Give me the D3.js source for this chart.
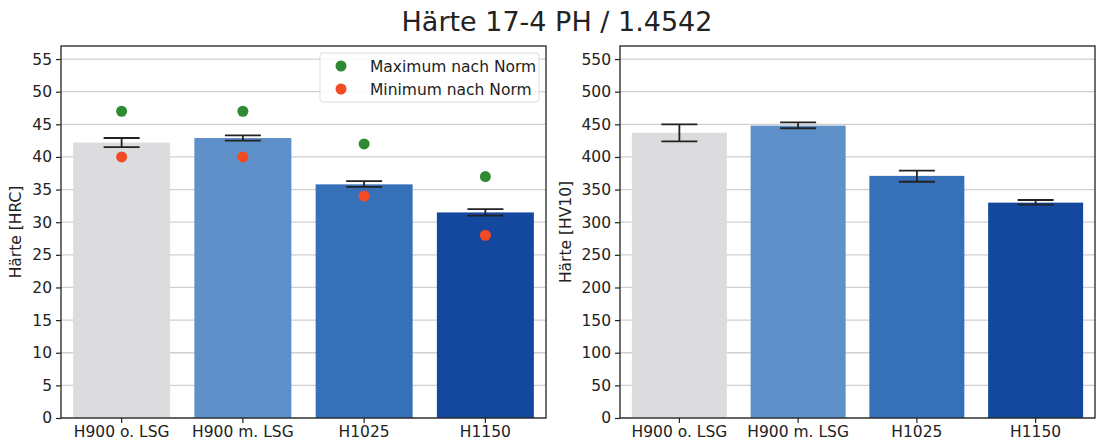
<!DOCTYPE html>
<meta charset="utf-8">
<script src="https://d3js.org/d3.v7.min.js"></script>
<style>
  body { margin: 0; background: #fff; }
  text { font-family: "DejaVu Sans", sans-serif; fill: #222; }
</style>
<body>
<div id="chart"></div>
<script>
    // data
    var categories = ["H900 o. LSG", "H900 m. LSG", "H1025", "H1150"]
    var barColors = ["#dcdcde", "#5d8fc9", "#3670b8", "#13489e"]

    var hrcMean = [42.2, 42.9, 35.8, 31.5]
    var hrcErrLow = [41.5, 42.5, 35.4, 31.0]
    var hrcErrHigh = [42.9, 43.3, 36.3, 32.0]
    var hrcMax = [47, 47, 42, 37]
    var hrcMin = [40, 40, 34, 28]
    var hrcTicks = [0, 5, 10, 15, 20, 25, 30, 35, 40, 45, 50, 55]

    var hvMean = [437, 448, 371, 330]
    var hvErrLow = [424, 444, 362, 327]
    var hvErrHigh = [450, 453, 379, 334]
    var hvTicks = [0, 50, 100, 150, 200, 250, 300, 350, 400, 450, 500, 550]

    var width = 1107, height = 443
    var fs = "15.5px"

    var svg = d3.select("#chart").append("svg")
        .attr("width", width)
        .attr("height", height)

    svg.append("text")
        .attr("x", 557)
        .attr("y", 31)
        .attr("text-anchor", "middle")
        .style("font-size", "27px")
        .text("Härte 17-4 PH / 1.4542")

    function panel(opt) {
        var g = svg.append("g")
        var x = d3.scaleBand()
            .domain(categories)
            .range([opt.left, opt.right])
            .paddingInner(0.2)
            .paddingOuter(0.1)
        var y = d3.scaleLinear()
            .domain([0, opt.ymax])
            .range([418, 46])

        // grid
        g.selectAll(".grid")
            .data(opt.ticks)
            .enter().append("line")
            .attr("x1", opt.left).attr("x2", opt.right)
            .attr("y1", function(d) { return y(d) }).attr("y2", function(d) { return y(d) })
            .attr("stroke", "#d0d0d0")
            .attr("stroke-width", 1.3)

        // bars
        g.selectAll(".bar")
            .data(opt.mean)
            .enter().append("rect")
            .attr("x", function(d, i) { return x(categories[i]) })
            .attr("width", x.bandwidth())
            .attr("y", function(d) { return y(d) })
            .attr("height", function(d) { return y(0) - y(d) })
            .attr("fill", function(d, i) { return barColors[i] })

        // error bars
        var eb = g.selectAll(".err")
            .data(opt.mean)
            .enter().append("g")
            .attr("stroke", "#222")
            .attr("stroke-width", 1.8)
        var cx = function(i) { return x(categories[i]) + x.bandwidth() / 2 }
        eb.append("line")
            .attr("x1", function(d, i) { return cx(i) }).attr("x2", function(d, i) { return cx(i) })
            .attr("y1", function(d, i) { return y(opt.lo[i]) }).attr("y2", function(d, i) { return y(opt.hi[i]) })
        eb.append("line")
            .attr("x1", function(d, i) { return cx(i) - 18 }).attr("x2", function(d, i) { return cx(i) + 18 })
            .attr("y1", function(d, i) { return y(opt.lo[i]) }).attr("y2", function(d, i) { return y(opt.lo[i]) })
        eb.append("line")
            .attr("x1", function(d, i) { return cx(i) - 18 }).attr("x2", function(d, i) { return cx(i) + 18 })
            .attr("y1", function(d, i) { return y(opt.hi[i]) }).attr("y2", function(d, i) { return y(opt.hi[i]) })

        // norm points
        if (opt.max) {
            g.selectAll(".max")
                .data(opt.max)
                .enter().append("circle")
                .attr("cx", function(d, i) { return cx(i) })
                .attr("cy", function(d) { return y(d) })
                .attr("r", 5.5)
                .attr("fill", "#2e8b34")
            g.selectAll(".min")
                .data(opt.min)
                .enter().append("circle")
                .attr("cx", function(d, i) { return cx(i) })
                .attr("cy", function(d) { return y(d) })
                .attr("r", 5.5)
                .attr("fill", "#f24a22")
        }

        // axes
        var yAxis = g.append("g")
            .attr("transform", "translate(" + opt.left + ",0)")
            .call(d3.axisLeft(y).tickValues(opt.ticks).tickSize(5).tickPadding(4))
        var xAxis = g.append("g")
            .attr("transform", "translate(0,418)")
            .call(d3.axisBottom(x).tickSize(5).tickPadding(3))
        ;[yAxis, xAxis].forEach(function(a) {
            a.select(".domain").remove()
            a.selectAll("line").attr("stroke", "#222").attr("stroke-width", 1.2)
            a.selectAll("text").style("font-size", fs).attr("fill", "#222")
                .style("font-family", "DejaVu Sans, sans-serif")
        })

        // frame
        g.append("rect")
            .attr("x", opt.left).attr("y", 46)
            .attr("width", opt.right - opt.left).attr("height", 372)
            .attr("fill", "none")
            .attr("stroke", "#222")
            .attr("stroke-width", 1.3)

        svg.append("text")
            .attr("transform", "translate(" + opt.labelX + ",232) rotate(-90)")
            .attr("text-anchor", "middle")
            .style("font-size", fs)
            .text(opt.label)
    }

    panel({left: 61, right: 546, ymax: 57, ticks: hrcTicks, mean: hrcMean, lo: hrcErrLow, hi: hrcErrHigh,
           max: hrcMax, min: hrcMin, label: "Härte [HRC]", labelX: 21})
    panel({left: 620, right: 1095, ymax: 570, ticks: hvTicks, mean: hvMean, lo: hvErrLow, hi: hvErrHigh,
           label: "Härte [HV10]", labelX: 571})

    // legend
    var legend = svg.append("g")
    legend.append("rect")
        .attr("x", 320).attr("y", 53)
        .attr("width", 219).attr("height", 49)
        .attr("rx", 3)
        .attr("fill", "#fff").attr("fill-opacity", 0.85)
        .attr("stroke", "#dddddd")
    var legendItems = [["Maximum nach Norm", "#2e8b34"], ["Minimum nach Norm", "#f24a22"]]
    legendItems.forEach(function(d, i) {
        legend.append("circle")
            .attr("cx", 341).attr("cy", 66 + i * 23)
            .attr("r", 5.5).attr("fill", d[1])
        legend.append("text")
            .attr("x", 370).attr("y", 71.5 + i * 23)
            .style("font-size", fs)
            .text(d[0])
    })
</script>
</body>
